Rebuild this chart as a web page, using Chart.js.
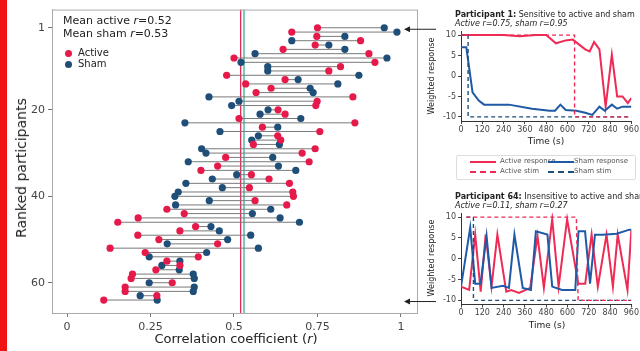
<!DOCTYPE html>
<html>
<head>
<meta charset="utf-8">
<script src="https://cdn.jsdelivr.net/npm/chart.js@4.4.1/dist/chart.umd.min.js"></script>
<style>
  body { margin: 0; background: #fff; font-family: "DejaVu Sans", sans-serif; }
  #wrap { position: relative; width: 640px; height: 351px; overflow: hidden; background: #fff; }
  canvas { position: absolute; }
  .t { position: absolute; white-space: nowrap; color: #222; line-height: 1; }
  .c { transform: translate(-50%, -50%); }
  .v { transform: translate(-50%, -50%) rotate(-90deg); }
  .dot { position: absolute; width: 7px; height: 7px; border-radius: 50%; }
  .lg { position: absolute; width: 26px; height: 0; }
</style>
</head>
<body>
<div id="wrap">
  <div style="position:absolute;left:0;top:0;width:7px;height:351px;background:#f01414"></div>

  <canvas id="p1" width="222" height="150" style="left:418px;top:0"></canvas>
  <canvas id="p64" width="222" height="171" style="left:418px;top:180px"></canvas>
  <canvas id="main" width="440" height="351" style="left:0;top:0"></canvas>

  <!-- main chart text -->
  <div class="t" style="left:63px;top:15px;font-size:11px">Mean active <i>r</i>=0.52</div>
  <div class="t" style="left:63px;top:28px;font-size:11px">Mean sham <i>r</i>=0.53</div>
  <div class="dot" style="left:65px;top:50px;background:#e6194b"></div>
  <div class="t" style="left:78px;top:48px;font-size:10px">Active</div>
  <div class="dot" style="left:65px;top:61px;background:#1f4e79"></div>
  <div class="t" style="left:78px;top:59px;font-size:10px">Sham</div>
  <div class="t v" style="left:21px;top:168px;font-size:14px">Ranked participants</div>
  <div class="t c" style="left:236px;top:338px;font-size:13px">Correlation coefficient (<i>r</i>)</div>

  <!-- participant 1 panel text -->
  <div class="t" style="left:455px;top:11px;font-size:8px"><b>Participant 1:</b> Sensitive to active and sham</div>
  <div class="t" style="left:455px;top:20px;font-size:8px;font-style:italic">Active <i>r</i>=0.75, sham <i>r</i>=0.95</div>
  <div class="t v" style="left:432px;top:76px;font-size:8px">Weighted response</div>
  <div class="t c" style="left:546px;top:141px;font-size:9px">Time (s)</div>

  <!-- legend -->
  <div style="position:absolute;left:456px;top:155px;width:178px;height:23px;border:1px solid #ddd;border-radius:2px"></div>
  <div class="lg" style="left:470px;top:161px;border-top:2px solid #ee2a55"></div>
  <div class="t" style="left:500px;top:158px;font-size:7px;color:#555">Active response</div>
  <div class="lg" style="left:548px;top:161px;border-top:2px solid #1f5aa6"></div>
  <div class="t" style="left:574px;top:158px;font-size:7px;color:#555">Sham response</div>
  <div class="lg" style="left:470px;top:171px;border-top:2px dashed #ee2a55"></div>
  <div class="t" style="left:500px;top:168px;font-size:7px;color:#555">Active stim</div>
  <div class="lg" style="left:548px;top:171px;border-top:2px dashed #1f4e79"></div>
  <div class="t" style="left:574px;top:168px;font-size:7px;color:#555">Sham stim</div>

  <!-- participant 64 panel text -->
  <div class="t" style="left:455px;top:193px;font-size:8px"><b>Participant 64:</b> Insensitive to active and sham</div>
  <div class="t" style="left:455px;top:202px;font-size:8px;font-style:italic">Active <i>r</i>=0.11, sham <i>r</i>=0.27</div>
  <div class="t v" style="left:432px;top:258px;font-size:8px">Weighted response</div>
  <div class="t c" style="left:547px;top:325px;font-size:9px">Time (s)</div>
</div>

<script>
// ranked participants (rank = index + 1)
var activeR = [0.75, 0.673, 0.748, 0.879, 0.743, 0.647, 0.904, 0.50, 0.922, 0.819,
  0.784, 0.478, 0.653, 0.535, 0.611, 0.566, 0.856, 0.749, 0.745, 0.632,
  0.653, 0.515, 0.862, 0.585, 0.757, 0.631, 0.64, 0.558, 0.743, 0.704,
  0.475, 0.725, 0.451, 0.401, 0.552, 0.605, 0.666, 0.546, 0.676, 0.678,
  0.563, 0.658, 0.299, 0.351, 0.213, 0.152, 0.385, 0.338, 0.212, 0.275,
  0.451, 0.129, 0.234, 0.393, 0.299, 0.338, 0.266, 0.196, 0.192, 0.315,
  0.174, 0.174, 0.269, 0.11];
var shamR = [0.95, 0.988, 0.832, 0.673, 0.784, 0.832, 0.563, 0.958, 0.521, 0.601,
  0.601, 0.874, 0.692, 0.811, 0.728, 0.737, 0.425, 0.515, 0.493, 0.602,
  0.578, 0.70, 0.353, 0.631, 0.458, 0.573, 0.553, 0.636, 0.403, 0.416,
  0.616, 0.363, 0.633, 0.685, 0.508, 0.435, 0.356, 0.465, 0.333, 0.323,
  0.426, 0.325, 0.61, 0.555, 0.638, 0.696, 0.431, 0.456, 0.55, 0.481,
  0.30, 0.573, 0.418, 0.246, 0.338, 0.284, 0.336, 0.378, 0.381, 0.246,
  0.381, 0.378, 0.219, 0.27];
var meanActive = 0.52;
var meanSham = 0.53;
var highlighted = [1, 64];
var rankTicks = [1, 20, 40, 60];
var rTicks = [0, 0.25, 0.5, 0.75, 1];
var rTickLabels = ["0", "0.25", "0.5", "0.75", "1"];

// participant 1 time courses
var p1ActiveT = [0, 120, 240, 330, 420, 480, 535, 590, 630, 700, 725, 750, 780, 815, 850, 880, 910, 940, 960];
var p1ActiveV = [10, 10, 10, 9.7, 10, 10, 8, 8.7, 8.9, 6.5, 6, 8.3, 6.5, -7.5, 5.2, -5, -5, -6.6, -5.4];
var p1ShamT = [0, 30, 65, 100, 130, 270, 400, 500, 530, 560, 590, 650, 700, 740, 780, 810, 850, 880, 910, 960];
var p1ShamV = [7, 7, -4, -6, -7, -7, -8, -8.5, -8.5, -7, -8.3, -8.5, -9, -9.5, -7.5, -8.5, -7, -8, -7.5, -7.5];
var p1ActiveStimT = [0, 640, 640, 960];
var p1ActiveStimV = [10, 10, -10, -10];
var p1ShamStimT = [0, 40, 40, 960];
var p1ShamStimV = [10, 10, -10, -10];

// participant 64 time courses
var p64ActiveT = [0, 46, 80, 111, 139, 172, 205, 255, 283, 327, 390, 431, 467, 514, 550, 598, 661, 700, 736, 771, 820, 856, 883, 938, 960];
var p64ActiveV = [-6.7, -7.5, 5.8, -7.9, 5.8, -6.7, 5.8, -7.9, -7.5, -8.2, -7, 5.5, -7, 9.5, -6.7, 9.5, -6, -6, 5.8, -6.7, 5.8, -6.7, 5.8, -7.5, 7];
var p64ShamT = [0, 52, 80, 110, 144, 172, 237, 270, 301, 348, 394, 422, 487, 514, 570, 644, 662, 699, 727, 755, 799, 877, 949, 960];
var p64ShamV = [-6.7, 7.5, -6, -6, 5.5, -7, -6.5, -7, 5.8, -7, -7.5, 6.6, 5.8, -6.7, -7.5, -7.5, 6.6, 6.6, -6, 5.8, 5.8, 6, 7, 7];
var p64ActiveStimT = [30, 650, 660, 960];
var p64ActiveStimV = [10, 10, -10, -10];
var p64ShamStimT = [30, 70, 70, 960];
var p64ShamStimV = [10, 10, -10, -10];
var timeTicks = [0, 120, 240, 360, 480, 600, 720, 840, 960];
var respTicks = [-10, -5, 0, 5, 10];

var RED = "#e6194b";
var SHAM = "#1f4e79";

Chart.defaults.font.family = "'DejaVu Sans', sans-serif";
Chart.defaults.animation = false;

function pts(xs, ys) {
  return xs.map(function (x, i) { return { x: x, y: ys[i] }; });
}

var connectors = activeR.map(function (a, i) {
  return {
    data: [{ x: a, y: i + 1 }, { x: shamR[i], y: i + 1 }],
    showLine: true,
    borderColor: "#7a7a7a",
    borderWidth: 1,
    pointRadius: 0,
    order: 3,
  };
});

var mainExtras = {
  id: "mainExtras",
  beforeDatasetsDraw: function (chart) {
    var a = chart.chartArea, xs = chart.scales.x, c = chart.ctx;
    c.save();
    [[meanActive, RED], [meanSham, "#2fa58a"]].forEach(function (m) {
      var px = xs.getPixelForValue(m[0]);
      c.strokeStyle = m[1];
      c.lineWidth = 1.2;
      c.beginPath();
      c.moveTo(px, a.top);
      c.lineTo(px, a.bottom);
      c.stroke();
    });
    c.restore();
  },
  afterDraw: function (chart) {
    var a = chart.chartArea, ys = chart.scales.y, c = chart.ctx;
    c.save();
    c.strokeStyle = "#aaa";
    c.lineWidth = 1;
    c.strokeRect(a.left + 0.5, a.top + 0.5, a.right - a.left, a.bottom - a.top);
    c.strokeStyle = "#222";
    c.fillStyle = "#222";
    highlighted.forEach(function (r) {
      var py = ys.getPixelForValue(r) + 1.5;
      var tip = a.right - 13;
      c.beginPath();
      c.moveTo(tip + 4, py);
      c.lineTo(chart.width - 4, py);
      c.stroke();
      c.beginPath();
      c.moveTo(tip, py);
      c.lineTo(tip + 6, py - 3);
      c.lineTo(tip + 6, py + 3);
      c.closePath();
      c.fill();
    });
    c.restore();
  },
};

new Chart(document.getElementById("main"), {
  type: "scatter",
  data: {
    datasets: connectors.concat([
      { label: "Sham", data: shamR.map(function (v, i) { return { x: v, y: i + 1 }; }),
        backgroundColor: SHAM, borderColor: SHAM, pointRadius: 3.6, borderWidth: 0, order: 2 },
      { label: "Active", data: activeR.map(function (v, i) { return { x: v, y: i + 1 }; }),
        backgroundColor: RED, borderColor: RED, pointRadius: 3.6, borderWidth: 0, order: 1 },
    ]),
  },
  options: {
    responsive: false,
    devicePixelRatio: 1,
    layout: { padding: { top: 9, right: 23, left: 0, bottom: 0 } },
    plugins: { legend: { display: false }, tooltip: { enabled: false } },
    scales: {
      x: {
        min: -0.045, max: 1.048,
        afterBuildTicks: function (s) { s.ticks = rTicks.map(function (v) { return { value: v }; }); },
        afterFit: function (s) { s.height = 38; },
        ticks: { color: "#444", font: { size: 11 }, padding: 4,
          callback: function (v, i) { return rTickLabels[i]; } },
        grid: { drawOnChartArea: false, tickLength: 4, color: "#777" },
        border: { color: "#aaa" },
      },
      y: {
        reverse: true,
        min: -3.2, max: 67,
        afterBuildTicks: function (s) { s.ticks = rankTicks.map(function (v) { return { value: v }; }); },
        afterFit: function (s) { s.width = 52; },
        ticks: { color: "#444", font: { size: 11 }, padding: 3 },
        grid: { drawOnChartArea: false, tickLength: 4, color: "#777" },
        border: { color: "#aaa" },
      },
    },
  },
  plugins: [mainExtras],
});

function timeChart(id, padTop, xHeight, series) {
  new Chart(document.getElementById(id), {
    type: "line",
    data: {
      datasets: [
        { data: pts(series.aStimT, series.aStimV), borderColor: "#ee2a55", borderWidth: 1.4, borderDash: [4, 3] },
        { data: pts(series.sStimT, series.sStimV), borderColor: SHAM, borderWidth: 1.4, borderDash: [4, 3] },
        { data: pts(series.sT, series.sV), borderColor: "#1f5aa6", borderWidth: 2 },
        { data: pts(series.aT, series.aV), borderColor: "#ee2a55", borderWidth: 2 },
      ].map(function (d) { d.pointRadius = 0; d.tension = 0; d.fill = false; return d; }),
    },
    options: {
      responsive: false,
      devicePixelRatio: 1,
      layout: { padding: { top: padTop, right: 6, left: 0, bottom: 0 } },
      plugins: { legend: { display: false }, tooltip: { enabled: false } },
      scales: {
        x: {
          type: "linear", min: 0, max: 960,
          afterBuildTicks: function (s) { s.ticks = timeTicks.map(function (v) { return { value: v }; }); },
          afterFit: function (s) { s.height = xHeight; },
          ticks: { color: "#444", font: { size: 8 }, padding: 1, maxRotation: 0, autoSkip: false },
          grid: { drawOnChartArea: false, tickLength: 3, color: "#444" },
          border: { color: "#333" },
        },
        y: {
          min: -11, max: 11,
          afterBuildTicks: function (s) { s.ticks = respTicks.map(function (v) { return { value: v }; }); },
          afterFit: function (s) { s.width = 43; },
          ticks: { color: "#444", font: { size: 8 }, padding: 2 },
          grid: { drawOnChartArea: false, tickLength: 3, color: "#444" },
          border: { color: "#333" },
        },
      },
    },
  });
}

timeChart("p1", 31, 29, {
  aT: p1ActiveT, aV: p1ActiveV, sT: p1ShamT, sV: p1ShamV,
  aStimT: p1ActiveStimT, aStimV: p1ActiveStimV, sStimT: p1ShamStimT, sStimV: p1ShamStimV,
});
timeChart("p64", 33, 46.5, {
  aT: p64ActiveT, aV: p64ActiveV, sT: p64ShamT, sV: p64ShamV,
  aStimT: p64ActiveStimT, aStimV: p64ActiveStimV, sStimT: p64ShamStimT, sStimV: p64ShamStimV,
});
</script>
</body>
</html>
